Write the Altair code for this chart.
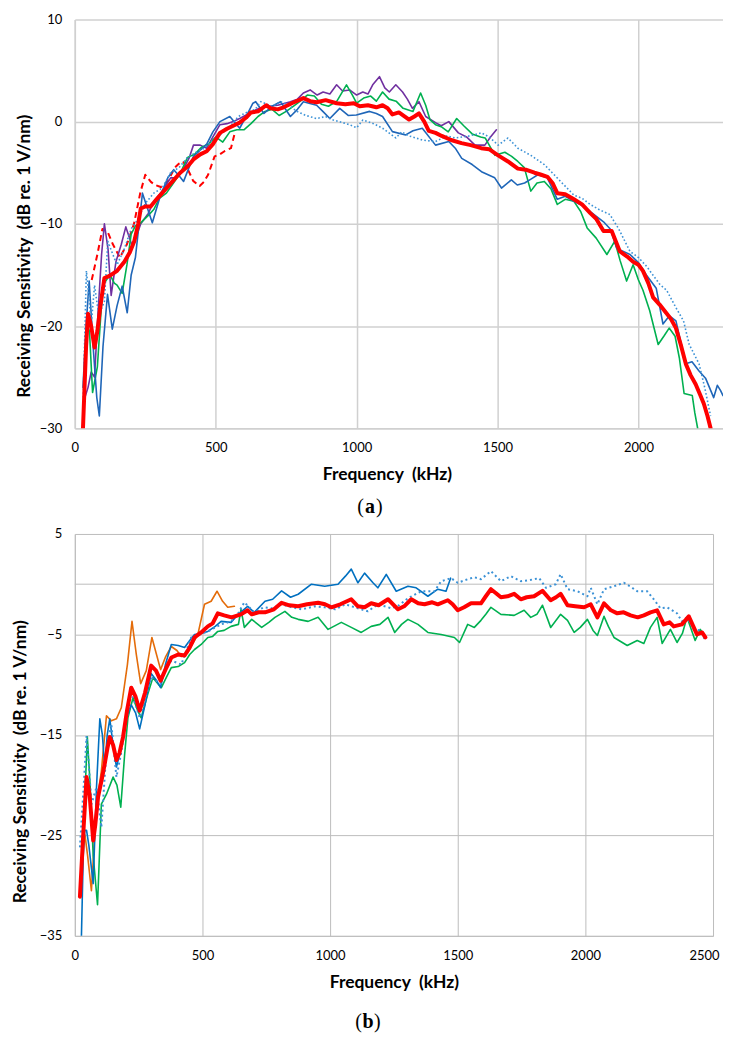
import altair as alt
import pandas as pd

# ---------------- Panel (a) data ----------------
A_RED_F = [29, 40, 47, 58, 70, 80, 90, 105, 123, 150, 176, 195, 211, 225, 234, 250, 269, 290, 316, 345, 374, 400, 421, 445, 468, 490, 515, 540, 562, 585, 608, 625, 650, 679, 695, 720, 741, 770, 811, 835, 858, 890, 929, 960, 990, 1011, 1040, 1070, 1092, 1110, 1127, 1150, 1186, 1205, 1221, 1240, 1256, 1280, 1302, 1335, 1372, 1405, 1442, 1470, 1502, 1537, 1572, 1600, 1631, 1655, 1677, 1695, 1712, 1740, 1771, 1800, 1829, 1850, 1876, 1905, 1934, 1960, 1981, 2000, 2016, 2035, 2052, 2075, 2098, 2115, 2133, 2150, 2168, 2185, 2203, 2220, 2232, 2245, 2256]
A_RED_DB = [-30, -22, -18.8, -20, -22.1, -20.5, -18.2, -15.3, -15.1, -14.6, -13.7, -12.8, -11.7, -10, -8.5, -8.3, -8.3, -7.6, -6.8, -5.9, -5.0, -4.4, -3.7, -3.2, -2.9, -2.2, -1.1, -0.7, -0.4, -0.1, 0.4, 0.9, 1.0, 1.6, 1.3, 1.2, 1.4, 1.8, 2.3, 2.0, 1.9, 2.1, 1.8, 1.7, 1.8, 1.5, 1.6, 1.4, 1.6, 1.3, 0.7, 0.9, 0.2, 0.5, 0.8, 0.0, -0.9, -1.1, -1.4, -1.8, -2.1, -2.3, -2.6, -2.7, -3.3, -3.9, -4.6, -4.7, -5.0, -5.2, -5.4, -6.0, -7.0, -7.1, -7.6, -8.1, -8.95, -9.5, -10.7, -10.7, -12.7, -13.2, -13.7, -14.0, -14.6, -15.8, -17.2, -17.9, -18.7, -19.3, -20.2, -21.8, -23.7, -24.8, -25.7, -26.8, -27.6, -28.8, -30]

A_GREEN_F = [35, 45, 52, 63, 80, 92, 100, 112, 125, 140, 150, 168, 185, 200, 215, 230, 260, 280, 300, 325, 350, 375, 400, 425, 450, 475, 500, 525, 550, 575, 600, 625, 650, 675, 700, 725, 750, 775, 800, 825, 850, 875, 900, 930, 964, 985, 1000, 1025, 1050, 1070, 1092, 1115, 1140, 1165, 1200, 1227, 1245, 1260, 1280, 1300, 1325, 1355, 1380, 1410, 1440, 1456, 1491, 1526, 1550, 1572, 1595, 1618, 1640, 1666, 1690, 1712, 1740, 1771, 1795, 1818, 1850, 1888, 1916, 1935, 1958, 1981, 2000, 2016, 2040, 2070, 2090, 2109, 2130, 2145, 2162, 2191, 2200, 2210]
A_GREEN_DB = [-24, -20, -20.5, -26.5, -24, -19, -16, -15.5, -15, -15.8, -16, -16.8, -14, -11, -10.2, -10, -9.2, -8.6, -7.5, -7, -6, -5, -3.5, -3.2, -2.5, -2.2, -1.5, -2, -1, -0.8, -0.8, -0.2, 0.5, 1.0, 1.2, 0.6, 1.0, 1.5, 2.0, 2.6, 2.5, 1.7, 1.5, 2.0, 3.6, 2.6, 1.8, 2.3, 2.5, 2.0, 2.9, 2.2, 2.0, 1.3, 1.0, 2.8, 1.6, 0.2, -0.3, -0.5, -1.0, 0.3, -0.4, -1.2, -1.5, -1.6, -3.3, -3.0, -3.4, -3.9, -4.5, -6.8, -6.0, -5.85, -6.6, -8.1, -7.6, -7.8, -8.8, -10.4, -11.4, -13.0, -11.7, -13.6, -15.6, -14.0, -15.5, -16.5, -18.5, -21.8, -21.0, -20.2, -21.0, -23.1, -26.6, -26.8, -28.5, -30]

A_BLUE_F = [29, 40, 51, 65, 78, 87, 100, 116, 133, 150, 168, 186, 200, 215, 240, 258, 275, 290, 304, 330, 351, 370, 386, 405, 421, 445, 468, 490, 515, 550, 585, 610, 632, 642, 671, 700, 730, 765, 790, 811, 858, 880, 905, 940, 970, 999, 1046, 1070, 1092, 1127, 1174, 1200, 1233, 1280, 1327, 1350, 1373, 1410, 1443, 1490, 1514, 1549, 1570, 1596, 1620, 1643, 1677, 1712, 1740, 1771, 1800, 1829, 1876, 1900, 1923, 1970, 2000, 2028, 2063, 2087, 2110, 2133, 2168, 2190, 2215, 2238, 2267, 2280, 2291, 2300]
A_BLUE_DB = [-26, -20, -15.6, -22, -27, -28.8, -22, -16.9, -20.3, -18, -16.1, -18.7, -15, -13.3, -7.0, -8.5, -9.9, -8.5, -7.2, -5.5, -4.7, -5.3, -5.85, -4.5, -3.4, -2.8, -2.2, -1.0, 0.0, 0.5, -0.65, 0.6, 1.8, 1.95, 0.8, 1.5, 1.95, 0.5, 1.2, 1.95, 1.6, 1.0, 0.3, 1.3, 0.6, 0.65, 1.0, 0.8, 0.5, -0.98, -1.3, -0.9, -0.65, -2.3, -1.95, -2.6, -3.6, -4.2, -4.9, -5.5, -6.5, -5.7, -6.2, -6.0, -5.6, -5.2, -5.5, -7.6, -7.3, -7.8, -8.2, -8.8, -9.8, -10.5, -12.4, -13.0, -13.8, -15.0, -16.3, -19.8, -19.0, -19.5, -23.7, -23.5, -24.4, -25.1, -27.0, -25.8, -26.3, -26.8]

A_DOT_F = [30, 41, 50, 58, 70, 85, 105, 117, 135, 150, 175, 200, 225, 250, 280, 310, 340, 370, 400, 430, 460, 490, 520, 550, 580, 610, 640, 660, 700, 730, 760, 788, 820, 858, 890, 917, 950, 975, 1000, 1022, 1060, 1092, 1139, 1160, 1186, 1233, 1280, 1320, 1350, 1400, 1443, 1470, 1502, 1537, 1572, 1618, 1666, 1701, 1736, 1771, 1800, 1829, 1860, 1899, 1930, 1970, 2000, 2030, 2075, 2100, 2133, 2160, 2180, 2215, 2235, 2256]
A_DOT_DB = [-27, -14.6, -17, -20, -16, -19, -17.6, -11.7, -13, -14, -12.5, -10.5, -9.5, -8, -7, -6.5, -5, -4.5, -3.5, -3, -2.6, -1.8, -1.2, -0.5, 0.5, 0.9, 1.2, 1.95, 1.5, 1.95, 1.6, 1.0, 0.6, 0.3, 0.5, 0.16, -0.1, -0.3, -0.6, 0.16, -0.2, -0.65, -1.6, -1.0, -1.4, -1.8, -1.95, -1.4, -1.6, -1.4, -1.1, -1.5, -2.3, -1.6, -2.6, -3.3, -4.2, -5.2, -6.2, -7.2, -7.5, -8.1, -8.6, -9.1, -10.5, -12.7, -13.3, -14.2, -15.9, -16.5, -18.2, -19.5, -21.8, -23.7, -26, -28.8]

A_PURPLE_F = [30, 47, 58, 70, 82, 95, 105, 118, 129, 146, 165, 181, 205, 234, 260, 281, 310, 340, 360, 386, 405, 421, 445, 468, 490, 515, 540, 562, 585, 608, 630, 655, 690, 720, 765, 790, 811, 835, 860, 881, 905, 929, 950, 975, 1000, 1022, 1040, 1057, 1081, 1100, 1116, 1139, 1163, 1180, 1198, 1221, 1245, 1280, 1300, 1327, 1361, 1390, 1420, 1455, 1475, 1496]
A_PURPLE_DB = [-27.5, -26, -24.5, -25, -18.9, -13, -10, -12.5, -17, -13.7, -12, -10.3, -12.3, -10, -9, -7.8, -6.8, -5.5, -5.5, -4.6, -3.6, -2.3, -2.3, -2.6, -1.5, -0.3, -0.2, 0.0, 0.3, 0.65, 1.0, 1.3, 1.5, 1.6, 1.95, 2.2, 2.8, 3.1, 2.6, 2.9, 2.7, 3.6, 3.0, 3.1, 2.6, 2.9, 2.7, 3.6, 4.4, 3.3, 2.9, 3.6, 2.9, 2.2, 1.3, 1.95, 0.5, -0.1, -0.4, 0.0, -1.1, -1.5, -2.3, -2.3, -1.5, -0.8]

A_DASH_F = [60, 80, 98, 115, 135, 160, 185, 210, 232, 250, 270, 285, 305, 320, 340, 355, 370, 384, 400, 420, 443, 458, 473, 496, 515, 531, 554, 566]
A_DASH_DB = [-15.5, -13, -10.5, -10.7, -12, -13.3, -12, -10, -7, -5.2, -5.9, -6.2, -6.4, -6.2, -5.3, -4.5, -4.1, -3.9, -4.6, -5.8, -6.3, -5.9, -5.2, -3.4, -3.2, -2.9, -2.6, -1.3]

# ---------------- Panel (b) data ----------------
B_RED_F = [20, 35, 46, 58, 72, 80, 91, 105, 117, 128, 137, 150, 163, 175, 189, 205, 221, 238, 254, 275, 299, 318, 336, 355, 378, 405, 430, 450, 469, 495, 521, 540, 560, 585, 614, 651, 677, 693, 720, 745, 780, 810, 840, 875, 910, 953, 980, 1005, 1040, 1083, 1109, 1135, 1161, 1190, 1227, 1266, 1290, 1318, 1345, 1370, 1400, 1422, 1461, 1480, 1500, 1525, 1552, 1591, 1610, 1630, 1650, 1669, 1695, 1721, 1747, 1770, 1799, 1832, 1864, 1885, 1903, 1930, 1960, 1995, 2021, 2047, 2073, 2100, 2125, 2150, 2177, 2205, 2229, 2255, 2281, 2307, 2330, 2346, 2378, 2405, 2437, 2457, 2470]
B_RED_DB = [-31.1, -24, -19.2, -21, -25.5, -24, -21.2, -19.5, -17.9, -16.3, -15.2, -16.0, -17.5, -16.8, -15.2, -12.5, -10.3, -11.2, -12.6, -10.8, -8.1, -8.6, -9.6, -8.5, -7.3, -7.0, -7.1, -6.3, -5.3, -4.8, -4.2, -3.9, -2.9, -3.1, -3.3, -3.0, -2.6, -3.0, -2.8, -2.8, -2.5, -1.85, -2.1, -2.2, -2.0, -1.85, -2.0, -2.3, -2.0, -1.5, -2.2, -2.3, -1.9, -2.1, -1.5, -2.5, -2.2, -1.5, -1.9, -2.0, -1.8, -2.0, -1.6, -2.0, -2.6, -2.3, -1.9, -1.9, -1.2, -0.5, -0.9, -1.3, -1.2, -0.96, -1.5, -1.3, -1.2, -0.66, -1.6, -1.3, -0.96, -2.1, -2.2, -2.3, -2.0, -3.3, -1.9, -2.6, -2.9, -2.8, -3.1, -3.3, -3.1, -2.8, -2.6, -4.0, -3.8, -4.2, -4.0, -3.2, -5.0, -4.8, -5.3]

B_GREEN_F = [28, 38, 49, 60, 72, 89, 104, 124, 150, 165, 180, 195, 208, 228, 245, 260, 285, 306, 322, 339, 360, 378, 405, 430, 450, 469, 495, 521, 540, 560, 585, 612, 641, 651, 664, 693, 732, 760, 784, 823, 850, 875, 914, 953, 992, 1044, 1083, 1122, 1161, 1195, 1227, 1253, 1280, 1305, 1344, 1383, 1435, 1487, 1507, 1539, 1565, 1591, 1610, 1630, 1669, 1721, 1760, 1786, 1810, 1832, 1864, 1903, 1930, 1956, 1980, 2008, 2030, 2047, 2073, 2090, 2112, 2164, 2203, 2229, 2255, 2281, 2301, 2333, 2359, 2380, 2398, 2430, 2450, 2470]
B_GREEN_DB = [-29, -22, -15.2, -20, -27, -31.9, -21.9, -20.9, -19.2, -20, -22.2, -17, -13.3, -11.3, -12.5, -13.3, -11, -9.3, -9.8, -10.3, -9.2, -8.3, -8.2, -7.8, -7.0, -6.5, -6.0, -5.3, -5.2, -4.7, -4.6, -4.2, -4.0, -2.5, -4.3, -3.5, -4.3, -3.8, -3.3, -2.7, -3.3, -3.5, -3.7, -3.3, -4.5, -3.8, -4.3, -4.8, -4.2, -4.0, -3.3, -4.8, -4.0, -3.5, -4.0, -4.8, -5.0, -5.3, -5.8, -4.0, -4.3, -3.6, -3.0, -2.3, -3.0, -3.1, -2.6, -3.3, -3.0, -2.1, -4.3, -3.0, -3.6, -4.8, -4.3, -3.5, -4.6, -5.1, -3.2, -4.2, -5.3, -6.1, -5.6, -5.9, -4.3, -3.3, -5.9, -4.5, -5.8, -4.9, -3.3, -5.6, -4.5, -5.2]

B_BLUE_F = [26, 33, 39, 46, 55, 72, 85, 98, 108, 117, 127, 137, 150, 163, 180, 202, 221, 238, 254, 275, 299, 318, 336, 355, 378, 405, 430, 450, 469, 495, 521, 550, 573, 612, 640, 677, 703, 745, 775, 810, 845, 875, 927, 979, 1031, 1060, 1083, 1109, 1135, 1168, 1187, 1220, 1259, 1305, 1337, 1383, 1422, 1454, 1472]
B_BLUE_DB = [-35, -27, -24.5, -24.5, -26, -29.8, -20.2, -13.4, -15, -18.2, -15, -13.4, -16, -18.2, -16.5, -13.4, -12.0, -12.8, -14.4, -12, -8.9, -9.5, -10.3, -8, -6.0, -6.1, -6.3, -5.6, -5.0, -4.9, -4.7, -4.2, -3.7, -3.8, -3.0, -2.2, -2.8, -1.7, -1.5, -0.66, -1.3, -1.0, 0.0, -0.2, 0.0, 0.8, 1.5, 0.14, 1.1, 0.14, -0.36, 0.97, -0.7, -0.2, -0.36, -1.2, -0.5, -0.7, 0.6]

B_DOT_F = [20, 35, 46, 55, 65, 85, 104, 124, 143, 163, 180, 195, 221, 238, 254, 275, 299, 318, 336, 355, 378, 417, 456, 490, 521, 573, 612, 640, 664, 703, 740, 771, 810, 850, 890, 940, 980, 1020, 1060, 1109, 1148, 1187, 1240, 1270, 1305, 1357, 1409, 1435, 1474, 1500, 1539, 1565, 1591, 1630, 1669, 1708, 1747, 1780, 1819, 1846, 1884, 1903, 1930, 1969, 2008, 2021, 2047, 2073, 2112, 2151, 2180, 2203, 2242, 2268, 2294, 2320, 2359, 2378, 2398, 2424, 2450, 2470]
B_DOT_DB = [-26.2, -20, -15.1, -18, -21.9, -20.2, -24.2, -16.5, -13.9, -19.2, -17, -14.6, -10.9, -12, -13.3, -11.5, -9.3, -9.6, -9.9, -8.5, -7.6, -8.0, -5.3, -5.0, -4.7, -4.0, -3.7, -2.9, -1.8, -2.8, -2.3, -2.4, -2.0, -2.3, -2.5, -2.2, -2.3, -2.5, -2.0, -2.4, -2.7, -2.0, -2.4, -2.1, -1.4, -0.7, -0.7, 0.3, 0.6, 0.14, 0.5, 0.7, 0.5, 1.3, 0.3, 0.8, 0.3, 0.4, 0.6, -0.36, 0.0, 1.0, -0.5, -0.7, -1.2, -0.36, -2.0, -0.5, -0.2, 0.14, -0.3, -0.7, -0.7, -1.5, -2.4, -2.3, -2.9, -3.7, -3.3, -4.5, -4.6, -5.6]

B_ORANGE_F = [30, 40, 50, 65, 85, 104, 124, 143, 163, 182, 206, 224, 241, 258, 280, 302, 320, 336, 356, 378, 400, 417, 443, 482, 508, 534, 557, 579, 599, 625]
B_ORANGE_DB = [-24.5, -25, -27, -30.5, -21.9, -18.6, -13.1, -13.6, -13.4, -12.3, -8.0, -3.7, -7.0, -9.9, -8.6, -5.3, -7.0, -8.5, -7.2, -6.2, -6.6, -7.2, -6.8, -5.0, -2.0, -1.7, -0.7, -1.7, -2.3, -2.2]

A_X_TICKS = [0, 500, 1000, 1500, 2000]
A_Y_TICKS = [-30, -20, -10, 0, 10]
B_X_TICKS = [0, 500, 1000, 1500, 2000, 2500]
B_Y_TICKS = [-35, -25, -15, -5, 5]
B_ZERO = [0]

X_TITLE = "Frequency\u00a0 (kHz)"
Y_TITLE = "Receiving Sensitivity\u00a0 (dB re. 1 V/nm)"

RED = "#FF0000"
GREEN = "#00B050"
PURPLE = "#7030A0"
BLUE_A = "#1F66B8"
BLUE_B = "#0070C0"
DOT_BLUE = "#3C92D6"
ORANGE = "#E46C0A"


def make_layers(series, xdom, ydom, xticks, yticks, ext, gridc, gridw, title_x, title_y, last_tick=None):
    xs = alt.Scale(domain=xdom, nice=False, zero=False)
    ys = alt.Scale(domain=ydom, nice=False, zero=False)
    xkw = {}
    if last_tick is not None:
        test = "datum.value == %d" % last_tick
        xkw["labelAlign"] = alt.condition(test, alt.value("right"), alt.value("center"))
        xkw["labelOffset"] = alt.condition(test, alt.value(6), alt.value(0))
    xa = alt.Axis(values=xticks, format="d", title=X_TITLE, grid=True, gridColor=gridc, gridWidth=gridw,
                  ticks=False, tickSize=0, labelPadding=13.5, titlePadding=11, titleX=title_x,
                  domainColor=gridc, domainWidth=gridw, labelFlush=False, **xkw)
    ya = alt.Axis(values=yticks, format="d", title=Y_TITLE, grid=True, gridColor=gridc, gridWidth=gridw,
                  ticks=False, tickSize=0, labelPadding=13, titlePadding=6,
                  minExtent=ext, maxExtent=ext, titleY=title_y,
                  domainColor=gridc, domainWidth=gridw)
    layers = []
    for f, db, color, width, dash in series:
        df = pd.DataFrame({"f": f, "db": db})
        kw = dict(color=color, strokeWidth=width, strokeJoin="round", clip=True)
        if dash:
            kw["strokeDash"] = dash
        else:
            kw["strokeCap"] = "round"
        layers.append(
            alt.Chart(df).mark_line(**kw).encode(
                x=alt.X("f:Q", scale=xs, axis=xa),
                y=alt.Y("db:Q", scale=ys, axis=ya),
            )
        )
    return layers


def label_layers(letter, cx, cy):
    base = dict(font="Liberation Serif", fontSize=20, color="#000", baseline="middle")
    l1 = alt.Chart(pd.DataFrame({"t": ["("]})).mark_text(align="right", **base).encode(
        text="t:N", x=alt.value(cx - 6), y=alt.value(cy))
    l2 = alt.Chart(pd.DataFrame({"t": [letter]})).mark_text(align="center", fontWeight="bold", **base).encode(
        text="t:N", x=alt.value(cx), y=alt.value(cy))
    l3 = alt.Chart(pd.DataFrame({"t": [")"]})).mark_text(align="left", **base).encode(
        text="t:N", x=alt.value(cx + 6), y=alt.value(cy))
    return [l1, l2, l3]


series_a = [
    (A_DASH_F, A_DASH_DB, RED, 2, [6, 4]),
    (A_PURPLE_F, A_PURPLE_DB, PURPLE, 1.6, None),
    (A_GREEN_F, A_GREEN_DB, GREEN, 1.6, None),
    (A_BLUE_F, A_BLUE_DB, BLUE_A, 1.6, None),
    (A_DOT_F, A_DOT_DB, DOT_BLUE, 1.6, [1.6, 2.2]),
    (A_RED_F, A_RED_DB, RED, 4, None),
]
series_b = [
    (B_ORANGE_F, B_ORANGE_DB, ORANGE, 1.6, None),
    (B_GREEN_F, B_GREEN_DB, GREEN, 1.6, None),
    (B_BLUE_F, B_BLUE_DB, BLUE_B, 1.6, None),
    (B_DOT_F, B_DOT_DB, DOT_BLUE, 2, [2, 3]),
    (B_RED_F, B_RED_DB, RED, 4, None),
]

A_W, A_H = 650, 410
B_W, B_H = 640, 403

layers_a = make_layers(series_a, [0, 2300], [-30, 10], A_X_TICKS, A_Y_TICKS, 35, "#D0D0D0", 1.5,
                       A_W / 2 - 12, 237)
panel_a = alt.layer(*layers_a, *label_layers("a", 296, 489)).properties(width=A_W, height=A_H)

zero_rule = alt.Chart(pd.DataFrame({"y": B_ZERO})).mark_rule(color="#BDBDBD", strokeWidth=1).encode(
    y=alt.Y("y:Q", scale=alt.Scale(domain=[-35, 5], nice=False, zero=False)))
layers_b = make_layers(series_b, [0, 2500], [-35, 5], B_X_TICKS, B_Y_TICKS, 39, "#BDBDBD", 1,
                       B_W / 2, 228, last_tick=2500)
panel_b = alt.layer(zero_rule, *layers_b, *label_layers("b", 294, 489)).properties(width=B_W, height=B_H)

chart = alt.vconcat(panel_a, panel_b, spacing=11).properties(
    padding={"left": 4, "top": 4, "right": 0, "bottom": 0}
).configure_axis(
    labelFont="Lato", labelFontSize=13, labelColor="#000",
    titleFont="Lato", titleFontSize=17.5, titleFontWeight="bold", titleColor="#000",
).configure_view(stroke=None)

chart.save("out.html", embed_options={"renderer": "svg", "actions": False})
